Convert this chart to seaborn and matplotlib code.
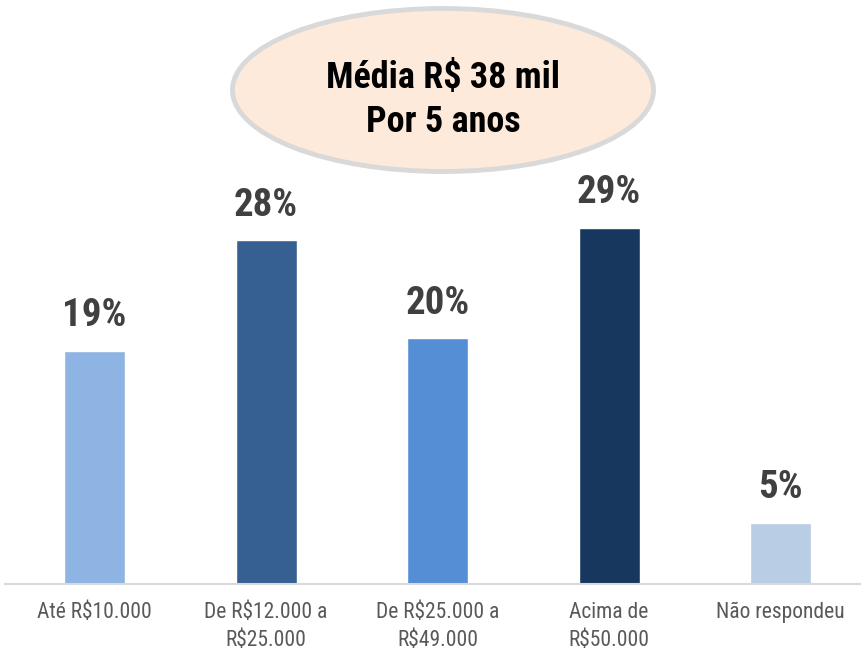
import matplotlib
matplotlib.use("Agg")
import matplotlib.pyplot as plt
from matplotlib import font_manager
from matplotlib.patches import Ellipse
import seaborn as sns
import pandas as pd

categories = ["Até R$10.000", "De R$12.000 a\nR$25.000", "De R$25.000 a\nR$49.000",
              "Acima de\nR$50.000", "Não respondeu"]
values = [19, 28, 20, 29, 5]
labels = ["19%", "28%", "20%", "29%", "5%"]
colors = ["#8EB4E3", "#376092", "#558ED5", "#17375E", "#B9CDE5"]
title_lines = ["Média R$ 38 mil", "Por 5 anos"]

sns.set_theme(style="white")
avail = {}
for f in font_manager.fontManager.ttflist:
    avail.setdefault(f.name, set()).add(f.weight)
pref = ["Liberation Sans Narrow", "Roboto Condensed", "PT Sans Narrow", "Arimo Narrow",
        "Archivo Narrow", "Asap Condensed"]
fam = None
for p in pref:
    if p in avail and any((w if isinstance(w, int) else 400) >= 700 for w in avail[p]):
        fam = p
        break
if fam is None:
    fam = "Liberation Sans"
plt.rcParams['font.family'] = [fam, "DejaVu Sans"]

df = pd.DataFrame({"cat": categories, "val": values})

fig = plt.figure(figsize=(8.61, 6.52), dpi=100)
ax = fig.add_axes([5/861, 68/652, 856/861, 584/652])
sns.barplot(data=df, x="cat", y="val", hue="cat", palette=colors, legend=False,
            width=0.356, ax=ax, saturation=1)
ax.set_xlim(-0.522, 4.469)
ax.set_ylim(0, 47.56)
for c, lab in zip(ax.containers, labels):
    ax.bar_label(c, labels=[lab], padding=12, fontsize=28, fontweight="bold", color="#404040")
ax.set_xlabel("")
ax.set_ylabel("")
ax.set_yticks([])
for s in ["top", "left", "right"]:
    ax.spines[s].set_visible(False)
ax.spines["bottom"].set_color("#D9D9D9")
ax.spines["bottom"].set_linewidth(1.5)
ax.tick_params(axis="x", length=0, pad=13, labelsize=15.5, labelcolor="#595959")
for t in ax.get_xticklabels():
    t.set_linespacing(1.45)

W, H = 861, 652
ell = Ellipse((443/W, 1 - 90/H), 421/W, 163/H, transform=fig.transFigure,
              facecolor="#FDEADA", edgecolor="#D9D9D9", linewidth=3.5, zorder=5)
fig.add_artist(ell)
fig.text(443/W, 1 - 78/H, title_lines[0], ha="center", va="center", fontsize=26,
         fontweight="bold", color="black", zorder=6)
fig.text(443/W, 1 - 122/H, title_lines[1], ha="center", va="center", fontsize=26,
         fontweight="bold", color="black", zorder=6)

fig.savefig("out.png", dpi=100)
